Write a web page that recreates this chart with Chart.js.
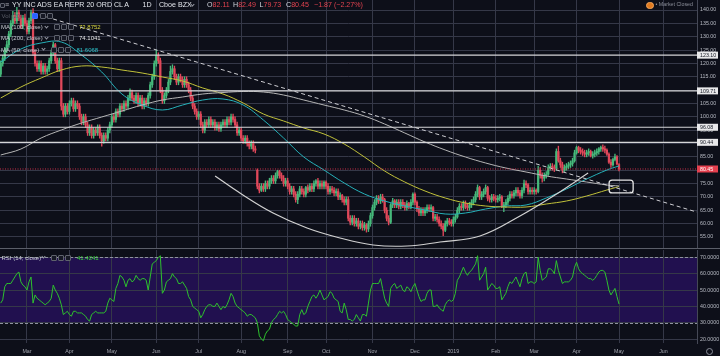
<!DOCTYPE html>
<html>
<head>
<meta charset="utf-8">
<title>YY INC ADS EA REPR 20 ORD CL A · 1D · Cboe BZX</title>
<script src="https://cdn.jsdelivr.net/npm/chart.js@4.4.1/dist/chart.umd.min.js"></script>
<style>
  html, body { margin:0; padding:0; background:#0d0f19; overflow:hidden; }
  #wrap { position:relative; width:720px; height:356px; background:#0d0f19; font-family:'Liberation Sans', Arial, sans-serif; overflow:hidden; }
  canvas { position:absolute; left:0; }
  #c1 { top:0; }
  #c2 { top:248px; }
  .t { position:absolute; white-space:nowrap; line-height:1; }
  .ic { position:absolute; width:4px; height:4px; border:1px solid #5f626d; border-radius:1px; background:#161824; }
  .chev { position:absolute; width:2px; height:2px; border-right:1px solid #9a9da8; border-bottom:1px solid #9a9da8; transform:rotate(45deg); }
</style>
</head>
<body>
<div id="wrap">
  <canvas id="c1" width="720" height="248"></canvas>
  <canvas id="c2" width="720" height="108"></canvas>
  <div style="position:absolute;left:0;top:247.5px;width:720px;height:1px;background:#5b5e69"></div>

  <!-- header -->
  <div class="ic" style="left:0;top:3px;width:3px;height:3px"></div>
  <div class="t" style="left:5px;top:1.2px;font-size:7px;color:#b2b5be">≡</div>
  <div class="t" style="left:12px;top:1.6px;font-size:7.1px;color:#e1e4ea">YY INC ADS EA REPR 20 ORD CL A</div>
  <div class="t" style="left:142.5px;top:1.6px;font-size:7.1px;color:#e1e4ea">1D</div>
  <div class="t" style="left:159px;top:1.6px;font-size:7.1px;color:#e1e4ea">Cboe BZX</div>
  <div class="chev" style="left:191px;top:2.6px"></div>
  <div class="t" style="left:207px;top:1.6px;font-size:7.1px;color:#e2434f"><span style="color:#d1d4dc">O</span>82.11</div>
  <div class="t" style="left:233px;top:1.6px;font-size:7.1px;color:#e2434f"><span style="color:#d1d4dc">H</span>82.49</div>
  <div class="t" style="left:259.5px;top:1.6px;font-size:7.1px;color:#e2434f"><span style="color:#d1d4dc">L</span>79.73</div>
  <div class="t" style="left:286px;top:1.6px;font-size:7.1px;color:#e2434f"><span style="color:#d1d4dc">C</span>80.45</div>
  <div class="t" style="left:314px;top:1.6px;font-size:7.1px;color:#e2434f">−1.87 (−2.27%)</div>

  <div style="position:absolute;left:646px;top:1.5px;width:5.5px;height:5.5px;border-radius:50%;background:#e07a1f;border:0.8px solid #f3a55a"></div>
  <div class="t" style="left:655.5px;top:2.4px;font-size:5.3px;color:#8b8e99">• Market Closed</div>

  <!-- indicator legends -->
  <div class="t" style="left:1.5px;top:12.9px;font-size:6px;color:#5a5d68">Vol (20)</div>
  <div class="ic" style="left:32px;top:13.3px;background:#2962ff;border-color:#3d6dff"></div>
  <div class="ic" style="left:40px;top:13.3px"></div>
  <div class="ic" style="left:47px;top:13.3px"></div>

  <div class="t" style="left:1px;top:23.8px;font-size:6px;color:#c5c8d0">MA (100, close)</div>
  <div class="chev" style="left:45px;top:24.6px"></div>
  <div class="ic" style="left:53.5px;top:24.2px"></div>
  <div class="ic" style="left:60.5px;top:24.2px"></div>
  <div class="ic" style="left:67.5px;top:24.2px"></div>
  <div class="t" style="left:79px;top:23.8px;font-size:6px;color:#d7d53e">73.8752</div>

  <div class="t" style="left:1px;top:34.9px;font-size:6px;color:#c5c8d0">MA (200, close)</div>
  <div class="chev" style="left:45px;top:35.7px"></div>
  <div class="ic" style="left:53.5px;top:35.3px"></div>
  <div class="ic" style="left:60.5px;top:35.3px"></div>
  <div class="ic" style="left:67.5px;top:35.3px"></div>
  <div class="t" style="left:79px;top:34.9px;font-size:6px;color:#e4e4e4">74.1041</div>

  <div class="t" style="left:1px;top:46.6px;font-size:6px;color:#c5c8d0">MA (50, close)</div>
  <div class="chev" style="left:42px;top:47.4px"></div>
  <div class="ic" style="left:50.5px;top:47px"></div>
  <div class="ic" style="left:57.5px;top:47px"></div>
  <div class="ic" style="left:64.5px;top:47px"></div>
  <div class="t" style="left:76.5px;top:46.6px;font-size:6px;color:#2bc0c8">81.6068</div>

  <div class="t" style="left:1.5px;top:254.6px;font-size:6px;color:#c5c8d0">RSI (14, close)</div>
  <div class="chev" style="left:42px;top:255.4px"></div>
  <div class="ic" style="left:50.5px;top:255px"></div>
  <div class="ic" style="left:57.5px;top:255px"></div>
  <div class="ic" style="left:64.5px;top:255px"></div>
  <div class="t" style="left:77px;top:254.6px;font-size:6px;color:#35d235">41.4241</div>

  <div style="position:absolute;left:706px;top:347.5px;width:5px;height:5px;border:1px solid #8a8d99;border-radius:50%"></div>
</div>

<script>
// ---------------- data ----------------
const startDate = '2018-02-09';
const holidays = ['2018-02-19','2018-03-30','2018-05-28','2018-07-04','2018-09-03','2018-11-22','2018-12-05','2018-12-25','2019-01-01','2019-01-21','2019-02-18','2019-04-19','2019-05-27'];
const tickLabels = ['Mar','Apr','May','Jun','Jul','Aug','Sep','Oct','Nov','Dec','2019','Feb','Mar','Apr','May','Jun'];
const priceTicks = [55,60,65,70,75,80,85,90,95,100,105,110,115,120,125,130,135,140];
const rsiTicks = [20,30,40,50,60,70];

const openP = [
116,120,122,125,127,131,135,138,136,139,137,134,137,135,132,136,139,124,120,118,120,117,119,117,118,121,124,
127,121,118,121,104,101,104,102,105,106,103,105,104,100,98,100,97,94,96,93,95,94,96,93,91,93,92,
95,97,100,99,102,101,104,103,105,104,107,109,107,106,108,105,107,104,106,105,108,112,115,120,123,121,110,106,
108,110,113,117,118,115,113,115,114,112,114,112,110,107,104,102,100,101,97,95,98,97,99,97,98,96,97,95.5,
97,98,97,99,98,100,99,97,94,95,92,91,92,90,89,90,88,80,74,72.5,74,73,75,74,76,77,76,78,79.5,
78,77,75,76,74,72,73,71,69,71,73,72,71,73.5,72.5,74,73,75,76,74,75,74,75.5,74,72,73,
72.5,71.5,72,70,70.5,69,68,69,62,60.5,62,60,61,59,60,58.5,59.5,58,60,63,66,68,69.5,68.5,70,69,65,62,
60.5,67,68.5,67,68,66.5,68,67,66,67.5,66.5,68,71,68,65.5,64,65,64,65,66,65.5,66,62,62.5,61.5,60,59,
57.5,60,61,60.5,60,61.5,62.5,65,66.5,66,67.5,66.5,66,67,68,69,71,73.5,70,71,72,73.5,69.5,69,70,69.5,69,69.5,
70,66.5,67,68,69.5,71,70.5,71.5,72.5,71.5,70.5,72.5,75,74.5,72,72.5,72,72.5,72,80,78,77,78,78.5,81,81.5,81,80.5,
87,83.5,82,80,81,81.5,82,82.5,83.5,86.5,88.5,87.5,87,86.5,86,86.5,87,85.5,86,86.5,87,88,88.5,88,87.5,86,83,
82,84,85,82.11];

const highP = [
121,123,126,128.5,132,136,139.5,139,141,140,138,138,138.5,136,137,140,140.5,125,121,121,121,120,120,119,122,125,128,
127.5,122,122,122,105,105,105,106,107,107,106,106,105,101,101,101,98,97,97,96,96,97,97,94,94,94,96,
98,101,101,103,103,105,105,106,106,108,110.5,110,108,109,109,108,108,107,107,109,113,116,121,125,124,122,111,109,
111,114,119,119.5,119,116,116,116,115,115,115,113,111,108,105,103,102,102,98,99,99,100,100,99,99,98,98,98,
99,99,100,100,101,101,100,98,96,96,93,93,93,91,91,91,89,80.5,75,75,75,76,76,77,78,78,79,80,80,
79,78,77,77,75,74,74,72,72,74,74,73,74,74.5,75,75,76,76.5,77,76,76,76,76,75,74,74,
73.5,73,73,71.5,71,70,70,70,63,63,63,62,62,61,61,60.5,60,61,64,67,69,70.5,70.5,71,71,69.5,66,63,
67.5,69.5,69,69,69,69,69,68,68.5,68,69,71.5,71.5,68.5,66.5,66,66,66,67,67,67,66.5,63.5,63.5,62.5,61,60,
61,62,62,61.5,62.5,63.5,66,67.5,67.5,68.5,68.5,67.5,68,69,70,72,74.5,74,72,73,74.5,74,70.5,71,71,70.5,70.5,71,
70.5,68,69,70.5,72,72,72.5,73.5,73.5,72.5,73.5,76.3,76,75,73.5,73.5,73.5,73,81.5,81,79,79,79.5,82,82.5,82.5,82,88,
89,84.5,83,82,82.5,83,83.5,84.5,87.5,89,89,88.5,88,87.5,87.5,88,87.5,87,87.5,88,88.5,89,89.5,89,88,86.5,84,
84.5,86,85.5,82.49];

const lowP = [
115,119,121,124,126,130,134,135,135,136,133,133,134,131,131,135,123,119,117,117,116,116,116,116,117,120,123,
120,117,117,102.5,100,100,101,101,104,102,102,103,99,97,97,96,93,93,92,92,93,93,92,89,90,91,91,
94,96,98,98,100,100,102,102,103,103,106,106,105,105,104,104,103,103,104,104,107,111,114,119,120,109,105,105,
107,109,112,116,114,112,112,113,111,111,111,109,106,103,101,99,99,96,94,94,96,96,96,96,95,95,94.5,94.5,
96,96,96,97,97,98,96,93,93,91,90,90,89,88,88,87,86.5,73,71.5,72,72,72,73,73,75,75,75,77,77,
76,74,74,73,71,71,70,68,67.5,70,71,70,70,71.5,72,72,72,74,73,73,73,73,73,71,71,71.5,
70.5,70.5,69,69,68,67,67,61,59.5,59.5,59,59,58,58,57.5,57.5,56.8,57,59,62,65,67,67.5,67.5,68,64,61,59.5,
60,66,66,66,65.5,65.5,66,65,65,65.5,65.5,67,67,64.5,63,63,63,63,64,64.5,64.5,61,61,60.5,59,58,55.5,
57,59,59.5,59,59,60.5,62,64,65,65,65.5,65,65,66,67,68,70,69,69,70,71,68.5,68,68,68.5,68,68,68.5,
66,64.5,66,67,68.5,69.5,69.5,70.5,70.5,69.5,69.5,71.5,73.5,71,71,71,71,71,71.5,77,75.5,76,77,78,80,80,79.5,80,
83,81,79,79.5,80,80.5,81,81.5,83,86,86.5,86,85.5,85,85,85.5,85,84.5,85,85.5,86,87,87,86.5,85.5,82.5,81,
81.5,83.5,82,79.73];

const closeP = [
120,122,125,127,131,135,138,136,139,137,134,137,135,132,136,139,124,120,118,120,117,119,117,118,121,124,127,
121,118,121,104,101,104,102,105,106,103,105,104,100,98,100,97,94,96,93,95,94,96,93,91,93,92,95,
97,100,99,102,101,104,103,105,104,107,109,107,106,108,105,107,104,106,105,108,112,115,120,123,121,110,106,108,
110,113,117,118,115,113,115,114,112,114,112,110,107,104,102,100,101,97,95,98,97,99,97,98,96,97,95.5,97,
98,97,99,98,100,99,97,94,95,92,91,92,90,89,90,88,87.5,74,72.5,74,73,75,74,76,77,76,78,79.5,78,
77,75,76,74,72,73,71,69,71,73,72,71,73.5,72.5,74,73,75,76,74,75,74,75.5,74,72,73,72.5,
71.5,72,70,70.5,69,68,69,62,60.5,62,60,61,59,60,58.5,59.5,58,60,63,66,68,69.5,68.5,70,69,65,62,60.5,
67,68.5,67,68,66.5,68,67,66,67.5,66.5,68,71,68,65.5,64,65,64,65,66,65.5,66,62,62.5,61.5,60,59,57.5,
60,61,60.5,60,61.5,62.5,65,66.5,66,67.5,66.5,66,67,68,69,71,73.5,70,71,72,73.5,69.5,69,70,69.5,69,69.5,70,
66.5,67,68,69.5,71,70.5,71.5,72.5,71.5,70.5,72.5,75,74.5,72,72.5,72,72.5,72,80,78,77,78,78.5,81,81.5,81,80.5,87,
83.5,82,80,81,81.5,82,82.5,83.5,86.5,88.5,87.5,87,86.5,86,86.5,87,85.5,86,86.5,87,88,88.5,88,87.5,86,83,82,
84,85,82.32,80.45];

const rsi = [
42,44,52,54,54,54,56,58,60,61,55,53,52,50,55,58,42,47,45,44,43,42,41,42,43,45,53,
50,48,45,41,35,36,37,35,34,37,37,36,36,36,35,34,32,31,35,36,37,36,36,36,36,37,42,
45,44,43,51,54,59,58,56,52,56,57,55,56,59,57,56,57,57,56,50,58,66,67,68,70,71,48,50,
55,56,57,60,58,57,54,54,55,53,51,46,44,40,39,38,37,33,35,38,40,41,41,40,40,42,40,38,
40,39,41,44,48,46,42,40,39,38,37,36,34,35,35,34,33,30,22,20,19,23,25,26,30,32,33,35,37,
36,37,35,32,31,30,29,28,28,35,38,35,36,40,43,46,47,45,47,50,47,44,45,46,49,48,
45,44,43,37,36,42,38,32,32,31,32,35,33,31,35,35,34,42,50,54,54,54,54,57,51,45,42,40,
51,53,54,51,52,53,50,49,52,51,49,52,54,50,46,43,44,44,48,50,50,40,40,41,39,38,37,
41,43,44,43,44,48,56,58,61,64,61,59,61,62,64,66,71,56,58,60,64,50,52,54,53,51,51,52,
44,46,48,52,55,54,56,58,55,52,57,60,61,54,55,55,54,55,70,62,56,57,58,63,63,62,60,68,
62,58,54,55,55,55,56,58,64,67,63,61,60,59,58,57,57,56,57,59,61,62,62,61,56,50,47,
49,51,46,41.42];

const maIdx = [0,10,20,30,40,50,60,70,80,90,100,110,120,130,140,150,160,170,180,190,200,210,220,230,240,250,260,270,280,290,300,306];
const ma100 = [107.04,111.16,114.53,117.53,119.03,118.65,117.53,116.40,114.91,113.41,110.79,108.54,105.17,101.05,98.43,95.81,93.56,89.81,84.94,79.70,75.58,72.21,69.59,67.72,66.59,66.22,66.22,67.34,68.46,70.34,72.58,73.88];
const ma200 = [85.69,87.94,92.06,95.06,97.68,99.93,102.17,104.42,106.29,107.42,108.54,109.10,109.48,109.29,108.16,106.29,104.42,102.55,100.30,97.30,93.93,90.56,87.57,84.94,82.70,80.82,79.33,77.83,76.70,75.58,74.46,74.10];
const ma50 = [120.52,125.39,127.64,128.01,123.15,116.78,108.54,104.42,102.55,104.42,106.29,106.67,104.42,98.80,92.06,84.94,80.07,75.21,71.09,68.46,66.59,65.09,63.60,63.97,65.47,66.59,66.97,69.59,72.96,76.70,80.07,81.61];

const levels = [123.10, 109.71, 96.08, 90.44];
const lastPrice = 80.45;
const trendIdx = [16.0, 344.6];
const trendVal = [138.9, 64.3];
const arcIdx = [106.1,118.4,134.8,151.6,167.9,184.3,201.1,217.4,237.2,257.0,274.3,290.7];
const arcVal = [77.83,71.46,63.97,58.35,54.61,51.99,51.61,53.11,55.36,62.85,70.71,78.95];
const boxIdx = [301.1, 313.0];
const boxVal = [76.3, 71.5];
const rsiBand = [30, 70];

// ---------------- calendar (trading days) ----------------
function tradingDays(start, n) {
  const out = [];
  const d = new Date(start + 'T00:00:00Z');
  while (out.length < n) {
    const dow = d.getUTCDay();
    const s = d.toISOString().slice(0, 10);
    if (dow !== 0 && dow !== 6 && !holidays.includes(s)) out.push(s);
    d.setUTCDate(d.getUTCDate() + 1);
  }
  return out;
}
const days = tradingDays(startDate, 345);
const monthIdx = [];
for (let i = 1; i < days.length; i++) if (days[i].slice(5, 7) !== days[i - 1].slice(5, 7)) monthIdx.push(i);

// ---------------- styles ----------------
const FAMILY = "'Liberation Sans', Arial, sans-serif";
const font = { family: FAMILY, size: 5.3 };
const GRID = '#353848', AXIS_TXT = '#b8bbc4', BORDER = '#454856';
const UP = '#46b97b', DOWN = '#e0485a';
const MA50C = '#26b2ba', MA100C = '#c2c23a', MA200C = '#b6b6b6';
const LEVELC = '#d6d6d8', RSIC = '#2dc22d', BAND = '#21104f';
const xMin = -0.35, xMax = 344.6;

Chart.defaults.font.family = FAMILY;

const idx = closeP.map((_, i) => i);
const colors = closeP.map((c, i) => c >= openP[i] ? UP : DOWN);
const pts = (xs, ys) => xs.map((x, k) => ({ x, y: ys[k] }));
const lineDs = (data, color, extra) => Object.assign({
  type: 'line', data, borderColor: color, borderWidth: 1, pointRadius: 0, fill: false, tension: 0.4, order: 1
}, extra || {});

const fixY = w => s => { s.width = w; s.paddingTop = 0; s.paddingBottom = 0; };
const fixX = h => s => { s.height = h; s.paddingLeft = 0; s.paddingRight = 0; };
const setTicks = arr => ax => { ax.ticks = arr.map(v => ({ value: v })); };

const levelBoxPlugin = {
  id: 'levelBoxes',
  afterDraw(chart) {
    const { ctx, chartArea: a, scales: { y } } = chart;
    ctx.save();
    ctx.font = '5.3px ' + FAMILY;
    ctx.textBaseline = 'middle';
    const tag = (v, bg, fg) => {
      const py = y.getPixelForValue(v);
      ctx.fillStyle = bg; ctx.fillRect(a.right, py - 3.5, 21, 7);
      ctx.fillStyle = fg; ctx.fillText(v.toFixed(2), a.right + 3, py + 0.3);
    };
    levels.forEach(v => tag(v, '#e8e8ea', '#131722'));
    tag(lastPrice, '#e5404f', '#ffffff');
    ctx.restore();
  }
};

const boxDrawPlugin = {
  id: 'boxDraw',
  afterDatasetsDraw(chart) {
    const { ctx, scales: { x, y } } = chart;
    const x1 = x.getPixelForValue(boxIdx[0]), x2 = x.getPixelForValue(boxIdx[1]);
    const y1 = y.getPixelForValue(boxVal[0]), y2 = y.getPixelForValue(boxVal[1]);
    ctx.save();
    ctx.strokeStyle = '#e6e6e6'; ctx.lineWidth = 1.3;
    ctx.beginPath(); ctx.roundRect(x1, y1, x2 - x1, y2 - y1, 3); ctx.stroke();
    ctx.restore();
  }
};

const rsiBandPlugin = {
  id: 'rsiBand',
  beforeDraw(chart) {
    const { ctx, chartArea: a, scales: { y } } = chart;
    const yTop = y.getPixelForValue(rsiBand[1]), yBot = y.getPixelForValue(rsiBand[0]);
    ctx.save(); ctx.fillStyle = BAND; ctx.fillRect(a.left, yTop, a.right - a.left, yBot - yTop); ctx.restore();
  },
  beforeDatasetsDraw(chart) {
    const { ctx, chartArea: a, scales: { y } } = chart;
    ctx.save();
    ctx.strokeStyle = '#8f92a0'; ctx.lineWidth = 1; ctx.setLineDash([3, 2]);
    rsiBand.forEach(v => {
      const py = Math.round(y.getPixelForValue(v)) + 0.5;
      ctx.beginPath(); ctx.moveTo(a.left, py); ctx.lineTo(a.right, py); ctx.stroke();
    });
    ctx.restore();
  }
};

// ---------------- price chart ----------------
new Chart(document.getElementById('c1'), {
  type: 'bar',
  data: {
    datasets: [
      ...levels.map(v => lineDs([{ x: xMin, y: v }, { x: xMax, y: v }], LEVELC, { order: 0, tension: 0, borderWidth: 1.1 })),
      lineDs([{ x: xMin, y: lastPrice }, { x: xMax, y: lastPrice }], '#c9304a', { order: 0, tension: 0, borderDash: [1, 1.5] }),
      lineDs(pts(trendIdx, trendVal), '#cfcfd4', { order: 0, tension: 0, borderDash: [4, 3] }),
      lineDs(pts(arcIdx, arcVal), '#d2d2d2', { order: 0, borderWidth: 1.2 }),
      lineDs(pts(maIdx, ma200), MA200C),
      lineDs(pts(maIdx, ma100), MA100C),
      lineDs(pts(maIdx, ma50), MA50C),
      { type: 'bar', data: idx.map(i => ({ x: i, y: [openP[i], closeP[i]] })), backgroundColor: colors,
        barThickness: 1.6, grouped: false, minBarLength: 1, borderWidth: 0, order: 2 },
      { type: 'bar', data: idx.map(i => ({ x: i, y: [lowP[i], highP[i]] })), backgroundColor: colors,
        barThickness: 0.7, grouped: false, borderWidth: 0, order: 3 }
    ]
  },
  options: {
    responsive: false, maintainAspectRatio: false, animation: false, events: [], devicePixelRatio: 1,
    layout: { padding: 0 },
    plugins: { legend: { display: false }, tooltip: { enabled: false } },
    scales: {
      x: { type: 'linear', min: xMin, max: xMax, bounds: 'data', offset: false,
           afterBuildTicks: ax => setTicks(monthIdx)(ax),
           ticks: { display: false },
           grid: { color: GRID, drawTicks: false, offset: false }, border: { display: false },
           afterFit: fixX(0) },
      y: { type: 'linear', position: 'right', min: 50.86, max: 143.75, bounds: 'data', beginAtZero: false,
           afterBuildTicks: setTicks(priceTicks),
           ticks: { color: AXIS_TXT, font, padding: 3, callback: v => Number(v).toFixed(2) },
           grid: { color: GRID, drawTicks: false }, border: { display: true, color: BORDER },
           afterFit: fixY(23) }
    }
  },
  plugins: [levelBoxPlugin, boxDrawPlugin]
});

// ---------------- RSI chart ----------------
new Chart(document.getElementById('c2'), {
  type: 'line',
  data: {
    datasets: [{ data: idx.map(i => ({ x: i, y: rsi[i] })), borderColor: RSIC, borderWidth: 1,
                 pointRadius: 0, tension: 0, fill: false }]
  },
  options: {
    responsive: false, maintainAspectRatio: false, animation: false, events: [], devicePixelRatio: 1,
    layout: { padding: { top: 2, left: 0, right: 0, bottom: 0 } },
    plugins: { legend: { display: false }, tooltip: { enabled: false } },
    scales: {
      x: { type: 'linear', min: xMin, max: xMax, bounds: 'data', offset: false,
           afterBuildTicks: ax => setTicks(monthIdx)(ax),
           ticks: { color: '#a3a6af', font, padding: 5, autoSkip: false, maxRotation: 0,
                    callback: (v, k) => tickLabels[k] },
           grid: { color: GRID, drawTicks: false }, border: { display: false },
           afterFit: fixX(13) },
      y: { type: 'linear', position: 'right', min: 17.6, max: 74.5, bounds: 'data',
           afterBuildTicks: setTicks(rsiTicks),
           ticks: { color: AXIS_TXT, font, padding: 3, callback: v => Number(v).toFixed(4) },
           grid: { color: GRID, drawTicks: false }, border: { display: true, color: BORDER },
           afterFit: fixY(23) }
    }
  },
  plugins: [rsiBandPlugin]
});
</script>
</body>
</html>
